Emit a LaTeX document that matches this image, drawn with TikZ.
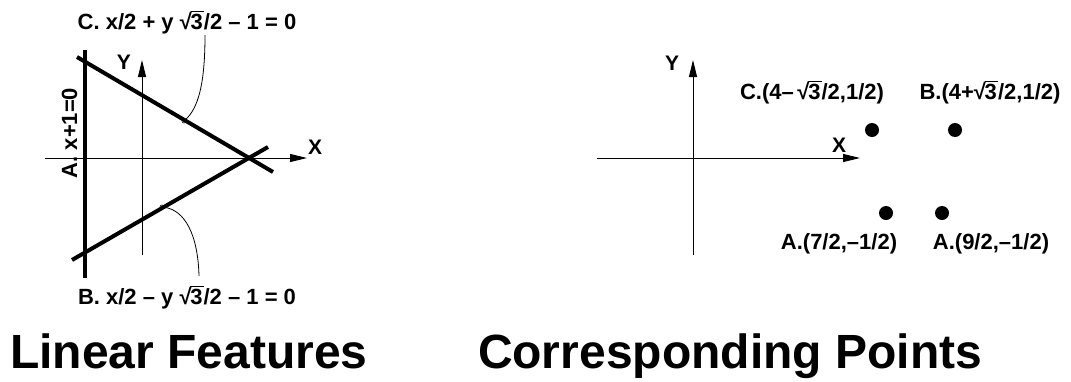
\documentclass[tikz,border=0pt]{standalone}
\usepackage{fontspec}
\setmainfont{Liberation Sans}
\usetikzlibrary{arrows.meta}
\newcommand{\sqthree}{√\kern-0.06em\vbox{\hrule height 1.6pt\kern 1.4pt\hbox{3\kern0.05em}}}
\begin{document}
\begin{tikzpicture}[x=1pt, y=-1pt, >={Triangle[length=17pt, width=8pt]},
  lbl/.style={font=\bfseries\fontsize{22}{24}\selectfont, inner sep=0pt, anchor=base},
  axl/.style={font=\bfseries\fontsize{21}{23}\selectfont, inner sep=0pt},
  ttl/.style={font=\bfseries\fontsize{48}{50}\selectfont, inner sep=0pt, anchor=base},
  dot/.style={circle, fill, inner sep=0pt, minimum size=14pt},
  ring/.style={circle, draw, inner sep=0pt, minimum size=4pt, line width=0.6pt},
  feat/.style={line width=4pt}]
  \useasboundingbox (0,0) rectangle (1071,381);
  % linear features
  \coordinate (lx0) at (45,158); \coordinate (lx1) at (307,158);
  \coordinate (ly0) at (142,255); \coordinate (ly1) at (142,60);
  \draw[->, line width=1pt] (lx0) -- (lx1);
  \draw[->, line width=1pt] (ly0) -- (ly1);
  \node[axl] (lxl) at (315,147) {X};
  \node[axl] (lyl) at (124,62) {Y};
  \coordinate (a0) at (85,50); \coordinate (a1) at (85,278);
  \coordinate (c0) at (77,57); \coordinate (c1) at (273,172);
  \coordinate (b0) at (72,260); \coordinate (b1) at (268,147);
  \draw[feat] (a0) -- (a1);
  \draw[feat] (c0) -- (c1);
  \draw[feat] (b0) -- (b1);
  \node[lbl, rotate=90] (al) at (77,133) {A. x+1=0};
  \node[lbl] (cl) at (187,29) {C. x/2 + y \sqthree/2 – 1 = 0};
  \node[lbl] (bl) at (187,304) {B. x/2 – y \sqthree/2 – 1 = 0};
  \node[ring] (cr) at (184,121) {};
  \node[ring] (br) at (162,207) {};
  \coordinate (cs) at (205,35);
  \coordinate (bs) at (199,276);
  \draw[line width=0.8pt] (cs) .. controls (205,85) and (198,108) .. (cr);
  \draw[line width=0.8pt] (bs) .. controls (198,235) and (185,210) .. (br);
  \node[ttl] (lt) at (189,368) {Linear Features};
  % corresponding points
  \coordinate (px0) at (597,158); \coordinate (px1) at (860,158);
  \coordinate (py0) at (693,255); \coordinate (py1) at (693,60);
  \draw[->, line width=1pt] (px0) -- (px1);
  \draw[->, line width=1pt] (py0) -- (py1);
  \node[axl] (pxl) at (839,145) {X};
  \node[axl] (pyl) at (672,63) {Y};
  \node[dot] (pc) at (872,130) {};
  \node[dot] (pb) at (955,130) {};
  \node[dot] (pa1) at (886,213) {};
  \node[dot] (pa2) at (942,213) {};
  \node[lbl] (pcl) at (812,99) {C.(4–\,\sqthree/2,1/2)};
  \node[lbl] (pbl) at (990,99) {B.(4+\sqthree/2,1/2)};
  \node[lbl] (pal1) at (839,249) {A.(7/2,–1/2)};
  \node[lbl] (pal2) at (991,249) {A.(9/2,–1/2)};
  \node[ttl] (pt) at (730,368) {Corresponding Points};
\end{tikzpicture}
\end{document}
